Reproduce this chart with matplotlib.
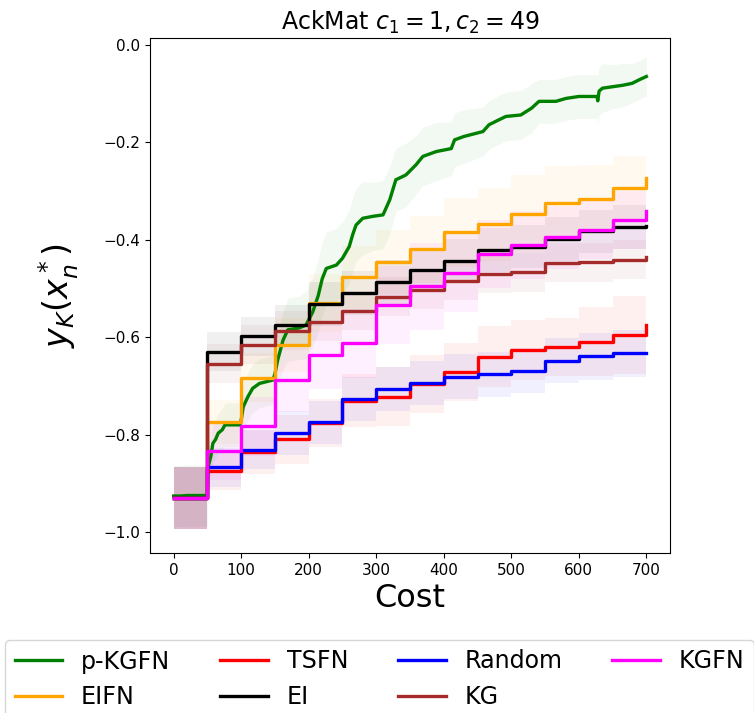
import numpy as np
import matplotlib
matplotlib.use("Agg")
import matplotlib.pyplot as plt

# step grid (cost), the last entry is the final value at cost 700
cost_steps = [0, 50, 100, 150, 200, 250, 300, 350, 400, 450, 500, 550, 600, 650, 700]

eifn = [-0.93, -0.774, -0.683, -0.616, -0.530, -0.477, -0.446, -0.420, -0.385, -0.368, -0.348, -0.324, -0.316, -0.293, -0.274]
tsfn = [-0.93, -0.874, -0.835, -0.810, -0.776, -0.730, -0.722, -0.696, -0.671, -0.640, -0.626, -0.620, -0.609, -0.596, -0.576]
ei = [-0.93, -0.630, -0.598, -0.575, -0.532, -0.509, -0.487, -0.462, -0.443, -0.421, -0.414, -0.398, -0.383, -0.374, -0.372]
rand = [-0.93, -0.867, -0.831, -0.796, -0.775, -0.727, -0.706, -0.694, -0.681, -0.676, -0.669, -0.648, -0.639, -0.633, -0.633]
kg = [-0.93, -0.655, -0.616, -0.587, -0.568, -0.546, -0.517, -0.503, -0.484, -0.470, -0.467, -0.447, -0.446, -0.441, -0.436]
kgfn = [-0.93, -0.834, -0.783, -0.688, -0.637, -0.613, -0.534, -0.496, -0.469, -0.429, -0.411, -0.395, -0.380, -0.359, -0.342]

# band half widths
eifn_err = [0.063, 0.045, 0.05, 0.055, 0.06, 0.065, 0.065, 0.068, 0.07, 0.075, 0.08, 0.075, 0.07, 0.065, 0.065]
tsfn_err = [0.063, 0.04, 0.045, 0.05, 0.05, 0.055, 0.06, 0.06, 0.06, 0.062, 0.062, 0.06, 0.07, 0.08, 0.08]
ei_err = [0.063, 0.04, 0.04, 0.04, 0.045, 0.045, 0.045, 0.045, 0.045, 0.045, 0.045, 0.045, 0.045, 0.045, 0.045]
rand_err = [0.063, 0.04, 0.04, 0.045, 0.045, 0.045, 0.045, 0.045, 0.046, 0.046, 0.046, 0.046, 0.048, 0.048, 0.048]
kg_err = [0.063, 0.04, 0.04, 0.04, 0.04, 0.04, 0.04, 0.04, 0.04, 0.04, 0.04, 0.04, 0.04, 0.04, 0.04]
kgfn_err = [0.063, 0.06, 0.06, 0.065, 0.07, 0.07, 0.08, 0.09, 0.08, 0.07, 0.07, 0.065, 0.06, 0.06, 0.06]

# p-KGFN is a running curve
pkgfn_cost = [0, 10, 20, 50, 50.5, 51, 55, 58, 62, 66, 72, 76, 98, 100, 103, 110, 117, 127,
              147, 150, 154, 162, 169, 186, 196, 206, 214, 220, 226, 241, 250, 260, 265, 270,
              280, 295, 310, 320, 329, 344, 359, 369, 389, 411, 416, 430, 458, 467, 480, 492,
              514, 530, 541, 566, 581, 600, 627, 628, 630, 635, 650, 665, 679, 689, 700]
pkgfn = [-0.926, -0.926, -0.925, -0.925, -0.88, -0.866, -0.845, -0.818, -0.81, -0.797, -0.79, -0.780,
         -0.780, -0.77, -0.743, -0.722, -0.705, -0.695, -0.688, -0.675, -0.647, -0.606, -0.585,
         -0.581, -0.575, -0.548, -0.515, -0.48, -0.459, -0.452, -0.438, -0.414, -0.39, -0.370,
         -0.356, -0.352, -0.349, -0.318, -0.277, -0.267, -0.246, -0.229, -0.219, -0.213, -0.195,
         -0.188, -0.178, -0.164, -0.155, -0.147, -0.144, -0.13, -0.116, -0.116, -0.110, -0.106,
         -0.106, -0.115, -0.095, -0.089, -0.086, -0.083, -0.079, -0.072, -0.065]
pkgfn_err = [0.063, 0.063, 0.063, 0.063, 0.04, 0.04, 0.04, 0.04, 0.04, 0.04, 0.045, 0.045,
             0.045, 0.05, 0.05, 0.05, 0.05, 0.05, 0.05, 0.055, 0.055, 0.06, 0.065, 0.065, 0.07,
             0.07, 0.075, 0.075, 0.075, 0.075, 0.075, 0.075, 0.075, 0.075, 0.075, 0.07, 0.07,
             0.07, 0.065, 0.065, 0.06, 0.06, 0.06, 0.055, 0.055, 0.055, 0.05, 0.05, 0.05, 0.05,
             0.05, 0.05, 0.045, 0.045, 0.045, 0.045, 0.045, 0.05, 0.05, 0.05, 0.045, 0.045,
             0.04, 0.04, 0.04]

step_series = [
    ("EIFN", eifn, eifn_err, "orange"),
    ("TSFN", tsfn, tsfn_err, "red"),
    ("EI", ei, ei_err, "black"),
    ("Random", rand, rand_err, "blue"),
    ("KG", kg, kg_err, "brown"),
    ("KGFN", kgfn, kgfn_err, "magenta"),
]

fig = plt.figure(figsize=(7.54, 7.13), dpi=100)
ax = fig.add_axes([0.199, 0.2244, 0.6896, 0.7223])

x = np.array(pkgfn_cost)
y = np.array(pkgfn)
e = np.array(pkgfn_err)
ax.plot(x, y, color="green", lw=2.4, label="p-KGFN")
ax.fill_between(x, y - e, y + e, color="green", alpha=0.05, lw=0)

for name, vals, err, col in step_series:
    xs = np.array(cost_steps)
    vs = np.array(vals)
    es = np.array(err)
    ax.plot(xs, vs, drawstyle="steps-post", color=col, lw=2.4, label=name)
    ax.fill_between(xs, vs - es, vs + es, step="post", color=col, alpha=0.06, lw=0)

ax.set_xlim(-35, 735)
ax.set_ylim(-1.043, 0.014)
ax.set_xticks([0, 100, 200, 300, 400, 500, 600, 700])
ax.set_yticks([-1.0, -0.8, -0.6, -0.4, -0.2, 0.0])
ax.tick_params(labelsize=11)
ax.set_title(r"AckMat $c_1 = 1, c_2 = 49$", fontsize=17)
ax.set_xlabel("Cost", fontsize=23)
ax.set_ylabel(r"$y_K(x_n^*)$", fontsize=24, labelpad=16)

handles, labels = ax.get_legend_handles_labels()
fig.legend(handles, labels, loc="upper left", bbox_to_anchor=(5 / 754, 1 - 640 / 713),
           ncol=4, fontsize=17.1, borderaxespad=0, columnspacing=2.1)

fig.savefig("out.png", dpi=100)
